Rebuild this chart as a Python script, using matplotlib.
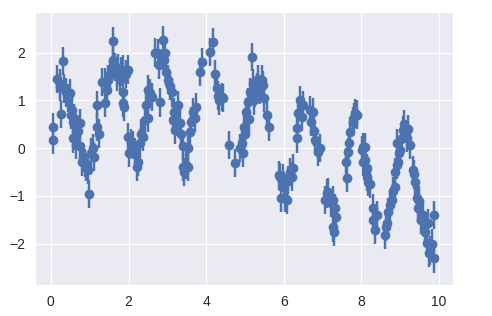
import matplotlib
matplotlib.use("Agg")
import matplotlib.pyplot as plt
import seaborn as sns

# noisy sine samples
x = [0.06, 0.06, 0.16, 0.23, 0.23, 0.27, 0.32, 0.34, 0.40, 0.44, 0.49, 0.51,
     0.54, 0.57, 0.57, 0.59, 0.62, 0.66, 0.70, 0.75, 0.75, 0.79, 0.82, 0.88,
     0.90, 0.96, 0.97, 1.03, 1.09, 1.11, 1.18, 1.19, 1.24,
     1.31, 1.39, 1.39, 1.44, 1.47, 1.52, 1.59, 1.59, 1.65, 1.70, 1.73, 1.78,
     1.80, 1.86, 1.86, 1.86, 1.88, 1.93, 1.98, 1.98,
     2.01, 2.06, 2.11, 2.16, 2.22, 2.24, 2.29, 2.32, 2.37, 2.42, 2.45, 2.50,
     2.50, 2.55, 2.60, 2.68, 2.76, 2.78, 2.81, 2.88, 2.91, 2.94, 2.96, 3.02,
     3.07, 3.11, 3.14, 3.17, 3.20, 3.22, 3.27, 3.32, 3.35, 3.40, 3.40, 3.43,
     3.48, 3.53, 3.53, 3.58, 3.61, 3.66, 3.71, 3.74, 3.84, 3.88, 4.10, 4.18,
     4.23, 4.28, 4.30, 4.33, 4.40, 4.43,
     4.59, 4.74, 4.87, 4.91, 4.94, 4.97, 5.00, 5.03, 5.08, 5.10, 5.13, 5.17,
     5.21, 5.23, 5.26, 5.30, 5.34, 5.39, 5.43, 5.46, 5.49, 5.56, 5.62,
     5.88, 5.90, 5.92, 5.98, 6.01, 6.03, 6.07, 6.11, 6.16, 6.21, 6.24, 6.33,
     6.34, 6.37, 6.42, 6.46, 6.49, 6.68, 6.70, 6.75, 6.78, 6.80, 6.88, 6.93,
     7.06, 7.11, 7.14, 7.22, 7.27, 7.26, 7.29, 7.32, 7.35,
     7.60, 7.62, 7.66, 7.68, 7.71, 7.78, 7.81, 7.84, 7.89,
     8.01, 8.04, 8.04, 8.09, 8.09, 8.14, 8.14, 8.17, 8.22, 8.30, 8.30, 8.35,
     8.40,
     8.61, 8.63, 8.65, 8.69, 8.74, 8.78, 8.81, 8.87, 8.87, 8.91, 8.92, 8.94,
     8.97, 8.99, 9.05, 9.07, 9.10, 9.17, 9.20, 9.25, 9.32, 9.36, 9.38, 9.43,
     9.46, 9.48, 9.54, 9.59, 9.64, 9.68, 9.72, 9.74, 9.77, 9.82, 9.87, 9.87]
y = [0.44, 0.17, 1.45, 1.35, 1.28, 0.71, 1.82, 1.25, 1.17, 1.05, 1.15, 0.69,
     0.80, 0.55, 0.20, 0.63, 0.48, 0.06, 0.35, 0.52, 0.04, -0.29, -0.20, -0.31,
     -0.40, -0.46, -0.96, -0.10, 0.00, -0.18, 0.44, 0.90, 0.30,
     1.38, 0.94, 1.38, 1.22, 1.43, 1.55, 2.24, 1.84, 1.70, 1.50, 1.68, 1.43,
     1.60, 1.64, 1.17, 0.94, 0.86, 1.55, 1.64, 0.23,
     -0.10, 0.10, 0.06, -0.10, -0.40, -0.29, 0.10, 0.30, 0.23, 0.59, 0.90, 0.63,
     1.22, 1.15, 1.07, 2.00, 1.99, 1.75, 0.96, 2.26, 1.85, 1.99, 1.60, 1.43,
     1.30, 1.17, 0.59, 0.75, 0.38, 0.55, 0.90, 0.52, 0.30, 0.04, -0.40, -0.50,
     -0.35, -0.40, 0.00, 0.34, 0.55, 0.75, 0.63, 0.85, 1.59, 1.80, 2.01, 2.22,
     1.55, 1.26, 1.10, 1.00, 1.07, 1.05,
     0.06, -0.31, 0.00, 0.10, -0.10, 0.44, 0.30, 0.75, 0.96, 0.60, 1.17, 1.91,
     1.36, 1.00, 1.15, 1.28, 1.45, 1.22, 1.43, 1.32, 1.05, 0.69, 0.44,
     -0.57, -0.61, -1.05, -0.63, -0.80, -1.05, -1.09, -0.67, -0.50, -0.60, -0.42, 0.42,
     0.20, 0.73, 1.00, 0.65, 0.90, 0.80, 0.55, 0.75, 0.35, 0.17, -0.08, 0.00,
     -1.09, -0.95, -0.92, -1.15, -1.09, -1.66, -1.76, -1.26, -1.45,
     -0.29, -0.63, -0.08, 0.10, 0.34, 0.55, 0.65, 0.73, 0.70,
     -0.04, -0.29, 0.02, 0.02, -0.25, -0.42, -0.60, -0.71, -0.75, -1.26, -1.51, -1.72,
     -1.40,
     -1.82, -1.65, -1.57, -1.34, -1.20, -1.09, -0.90, -0.82, -0.50, 0.10, -0.35, -0.29,
     -0.10, -0.04, 0.20, 0.38, 0.50, 0.21, 0.40, 0.06, -0.46, -0.55, -0.71, -1.05,
     -1.26, -1.10, -1.50, -1.40, -1.76, -1.99, -1.57, -2.20, -2.14, -2.00, -1.40, -2.31]
dy = 0.3

sns.set_style("darkgrid")
plt.rcParams['font.family'] = ['Liberation Sans', 'DejaVu Sans']

fig = plt.figure(figsize=(4.92, 3.16), dpi=100)
ax = fig.add_subplot(111)
fig.subplots_adjust(left=0.071, right=0.921, top=0.962, bottom=0.098)

ax.errorbar(x, y, yerr=dy, fmt='o', color='#4c72b0', ms=6, lw=1.75)

ax.set_xlim(-0.41, 10.36)
ax.set_ylim(-2.87, 2.85)
ax.set_xticks([0, 2, 4, 6, 8, 10])
ax.set_yticks([-2, -1, 0, 1, 2])
ax.tick_params(labelsize=10, colors='.15', length=0, pad=7)

fig.savefig("out.png")
